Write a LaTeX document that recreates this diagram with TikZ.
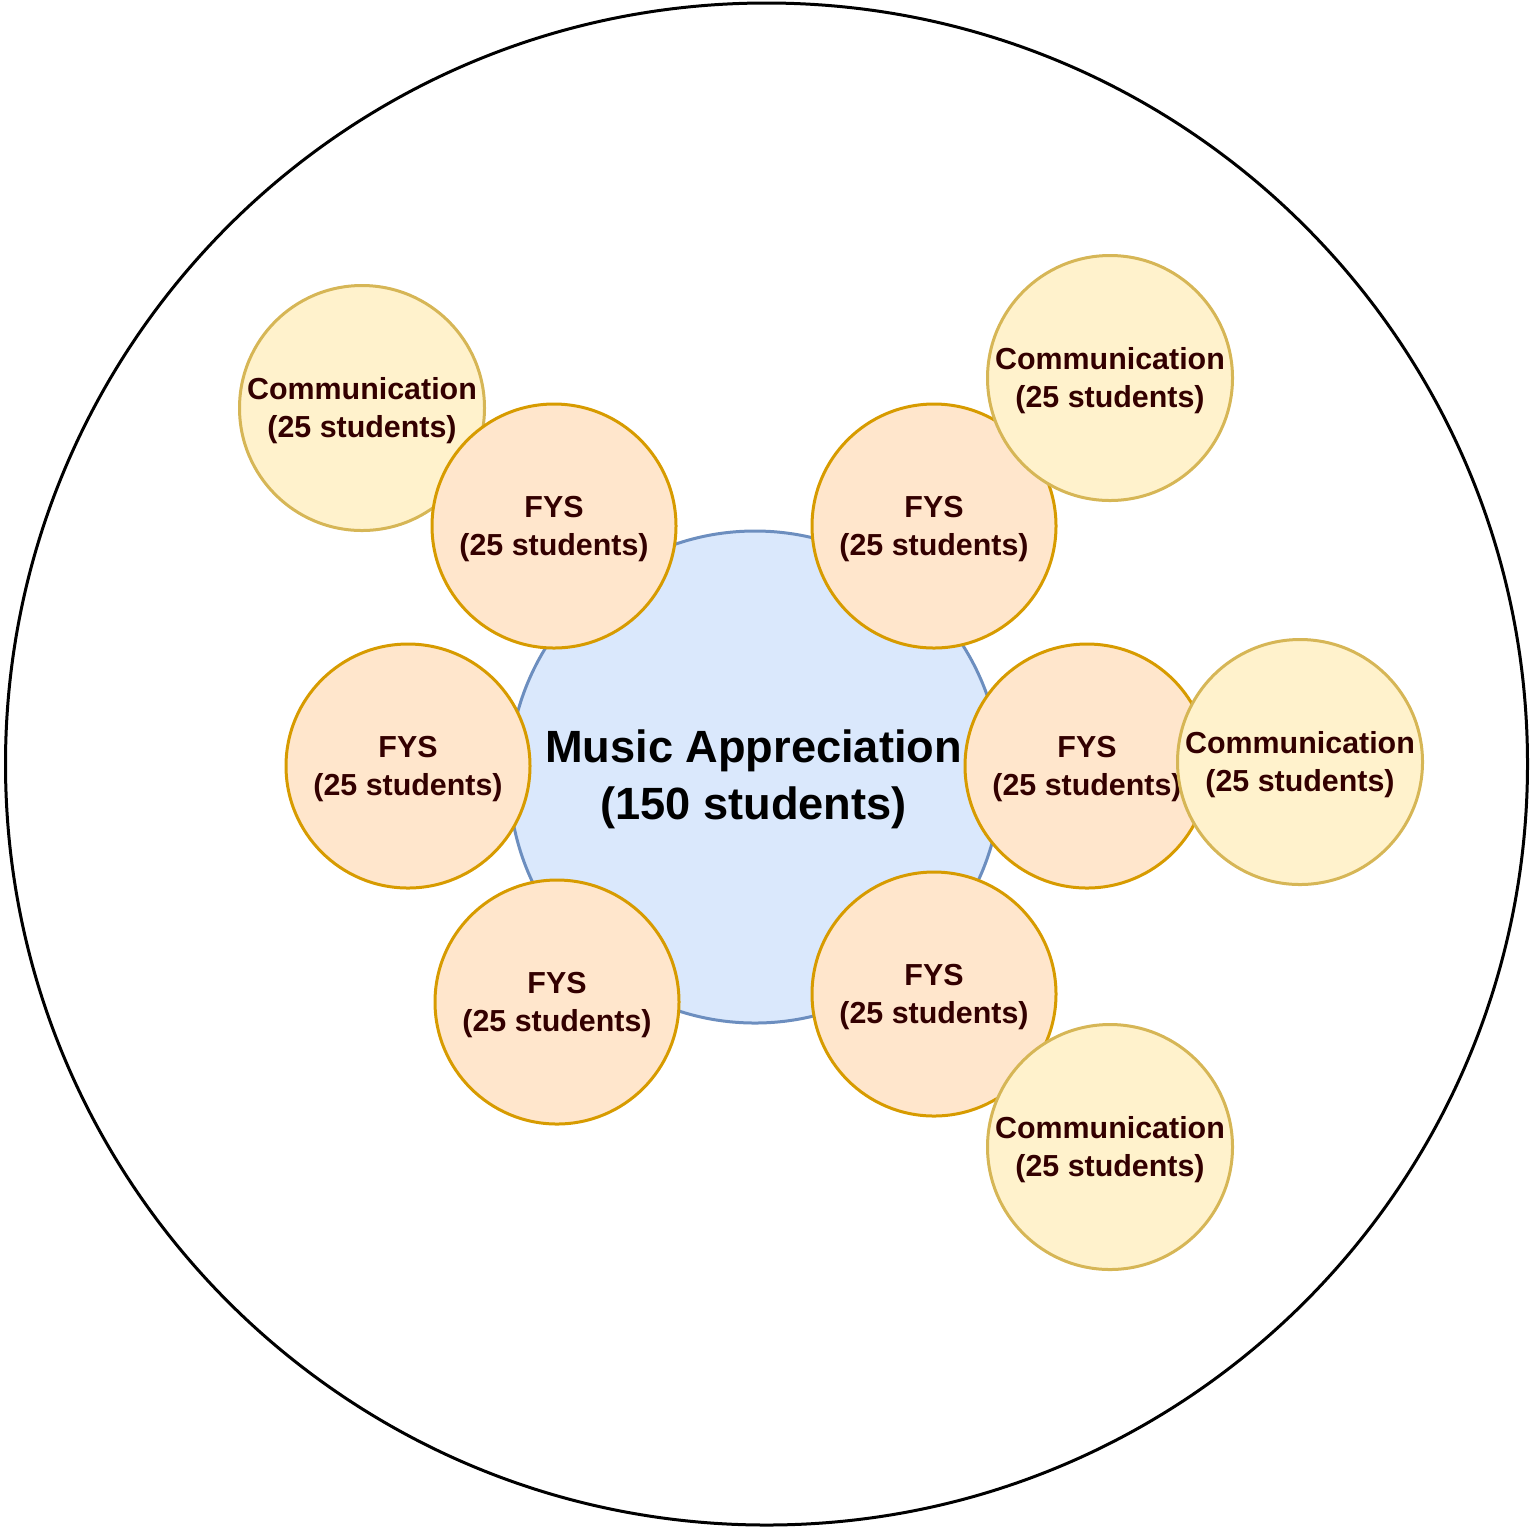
\documentclass[tikz,border=0pt]{standalone}
\usepackage{fontspec}
\setmainfont{Liberation Sans}
\definecolor{bluefill}{HTML}{DAE8FC}
\definecolor{bluedraw}{HTML}{6C8EBF}
\definecolor{orfill}{HTML}{FFE6CC}
\definecolor{ordraw}{HTML}{D79B00}
\definecolor{yefill}{HTML}{FFF2CC}
\definecolor{yedraw}{HTML}{D6B656}
\definecolor{txtcol}{HTML}{330000}
\tikzset{
  fys/.style={circle, draw=ordraw, fill=orfill, line width=1.5pt, minimum size=122pt, inner sep=0pt},
  comm/.style={circle, draw=yedraw, fill=yefill, line width=1.5pt, minimum size=122.5pt, inner sep=0pt},
  lbl/.style={align=center, text=txtcol, inner sep=0pt, font=\bfseries\fontsize{15.2}{19}\selectfont},
  mainc/.style={circle, draw=bluedraw, fill=bluefill, line width=1.5pt, minimum size=246pt, inner sep=0pt},
  maintxt/.style={align=center, text=black, font=\bfseries\fontsize{22.6}{28.5}\selectfont, inner sep=0pt},
  outer/.style={circle, draw=black, line width=1.5pt, minimum size=761pt, inner sep=0pt}
}
\begin{document}
\begin{tikzpicture}[x=0.5pt,y=-0.5pt]
\useasboundingbox (0,0) rectangle (1535,1533);
\node[outer] (outerc) at (766.5,764) {};
\node[mainc] (music) at (755,777) {};
\node[comm] (c1) at (362,408) {};
\node[lbl] (c1t) at ([yshift=-1.5pt]c1.center) {Communication\\(25 students)};
\node[fys] (f1) at (554,526) {};
\node[lbl] (f1t) at ([yshift=-1.5pt]f1.center) {FYS\\(25 students)};
\node[fys] (f2) at (934,526) {};
\node[lbl] (f2t) at ([yshift=-1.5pt]f2.center) {FYS\\(25 students)};
\node[comm] (c2) at (1110,378) {};
\node[lbl] (c2t) at ([yshift=-1.5pt]c2.center) {Communication\\(25 students)};
\node[fys] (f3) at (408,766) {};
\node[lbl] (f3t) at ([yshift=-1.5pt]f3.center) {FYS\\(25 students)};
\node[fys] (f4) at (1087,766) {};
\node[lbl] (f4t) at ([yshift=-1.5pt]f4.center) {FYS\\(25 students)};
\node[comm] (c3) at (1300,762) {};
\node[lbl] (c3t) at ([yshift=-1.5pt]c3.center) {Communication\\(25 students)};
\node[fys] (f5) at (557,1002) {};
\node[lbl] (f5t) at ([yshift=-1.5pt]f5.center) {FYS\\(25 students)};
\node[fys] (f6) at (934,994) {};
\node[lbl] (f6t) at ([yshift=-1.5pt]f6.center) {FYS\\(25 students)};
\node[comm] (c4) at (1110,1147) {};
\node[lbl] (c4t) at ([yshift=-1.5pt]c4.center) {Communication\\(25 students)};
\node[maintxt] (musictxt) at (753.5,779.5) {Music Appreciation\\(150 students)};
\end{tikzpicture}
\end{document}
